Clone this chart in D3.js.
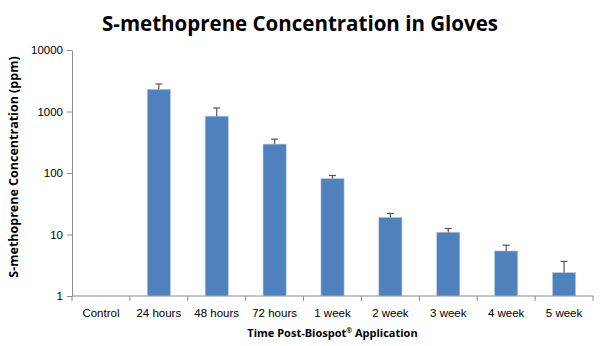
<!DOCTYPE html>
<html>
<head>
<meta charset="utf-8">
<script src="https://cdn.jsdelivr.net/npm/d3@7"></script>
<style>
  body { margin: 0; background: #fff; }
  text { font-family: "Open Sans", "Noto Sans", sans-serif; fill: #000; }
</style>
</head>
<body>
<div id="chart"></div>
<script>
const categories = ["Control", "24 hours", "48 hours", "72 hours", "1 week", "2 week", "3 week", "4 week", "5 week"];
const means  = [null, 2300, 840, 295, 81, 19, 10.9, 5.4, 2.4];
const errors = [null, 500, 300, 60, 10, 3, 1.6, 1.3, 1.25];
const yTicks = [1, 10, 100, 1000, 10000];

const W = 600, H = 346;
const margin = {top: 50, right: 7, bottom: 50, left: 72},
      width = W - margin.left - margin.right,
      height = 296 - margin.top;

const svg = d3.select("#chart")
              .append("svg")
              .attr("width", W)
              .attr("height", H);

const g = svg.append("g").attr("transform", `translate(${margin.left},${margin.top})`);

const data = categories.map((c, i) => ({cat: c, v: means[i], e: errors[i]}));

const x = d3.scaleBand().domain(categories).range([0, width]).paddingInner(0.6).paddingOuter(0.3);
const xTick = d3.scaleBand().domain(categories).range([0, width]);
const y = d3.scaleLog().domain([1, 10000]).range([height, 0]);

// title
svg.append("text")
   .attr("x", 300).attr("y", 31)
   .attr("text-anchor", "middle")
   .style("font-size", "20.5px").style("font-weight", "bold")
   .text("S-methoprene Concentration in Gloves");

// y axis
const yAxis = g.append("g").call(d3.axisLeft(y).tickValues(yTicks).tickFormat(d3.format("d")).tickSize(5).tickSizeOuter(0));
yAxis.select(".domain").attr("stroke", "#8c8c8c");
yAxis.selectAll(".tick line").attr("stroke", "#8c8c8c");
yAxis.selectAll(".tick text").attr("x", -9).style("font-size", "11.5px").style("font-family", "'Liberation Sans', sans-serif");

// x axis: ticks at category boundaries
const xg = g.append("g").attr("transform", `translate(0,${height})`);
xg.append("line").attr("x1", 0).attr("x2", width).attr("stroke", "#8c8c8c");
xg.selectAll(".xt")
  .data(categories.concat(["end"]))
  .enter().append("line")
  .attr("x1", (d, i) => i * xTick.step()).attr("x2", (d, i) => i * xTick.step())
  .attr("y1", 0).attr("y2", 5).attr("stroke", "#8c8c8c");
xg.selectAll(".xl")
  .data(categories)
  .enter().append("text")
  .attr("x", d => xTick(d) + xTick.bandwidth() / 2)
  .attr("y", 21)
  .attr("text-anchor", "middle")
  .style("font-size", "11.5px")
  .style("font-family", "'Liberation Sans', sans-serif")
  .text(d => d);

// bars
const bars = data.filter(d => d.v != null);
g.selectAll(".bar")
 .data(bars)
 .enter().append("rect")
 .attr("class", "bar")
 .attr("x", d => x(d.cat))
 .attr("width", x.bandwidth())
 .attr("y", d => y(d.v))
 .attr("height", d => height - y(d.v))
 .attr("fill", "#4f81bd")
 .attr("stroke", "#b9cde5").attr("stroke-width", 0.6);

// error bars (upper only)
const eb = g.selectAll(".err").data(bars).enter().append("g").attr("stroke", "#555").attr("stroke-width", 1.2);
eb.append("line")
  .attr("x1", d => x(d.cat) + x.bandwidth() / 2).attr("x2", d => x(d.cat) + x.bandwidth() / 2)
  .attr("y1", d => y(d.v)).attr("y2", d => y(d.v + d.e));
eb.append("line")
  .attr("x1", d => x(d.cat) + x.bandwidth() / 2 - 3.5).attr("x2", d => x(d.cat) + x.bandwidth() / 2 + 3.5)
  .attr("y1", d => y(d.v + d.e)).attr("y2", d => y(d.v + d.e));

// axis titles
svg.append("text")
   .attr("transform", `translate(18,167) rotate(-90)`)
   .attr("text-anchor", "middle")
   .style("font-size", "12.5px").style("font-weight", "bold")
   .text("S-methoprene Concentration (ppm)");

const xt = svg.append("text")
   .attr("x", margin.left + width / 2).attr("y", 337)
   .attr("text-anchor", "middle")
   .style("font-size", "11px").style("font-weight", "bold");
xt.append("tspan").text("Time Post-Biospot");
xt.append("tspan").attr("dy", -4).style("font-size", "7px").text("®");
xt.append("tspan").attr("dy", 4).text(" Application");
</script>
</body>
</html>
